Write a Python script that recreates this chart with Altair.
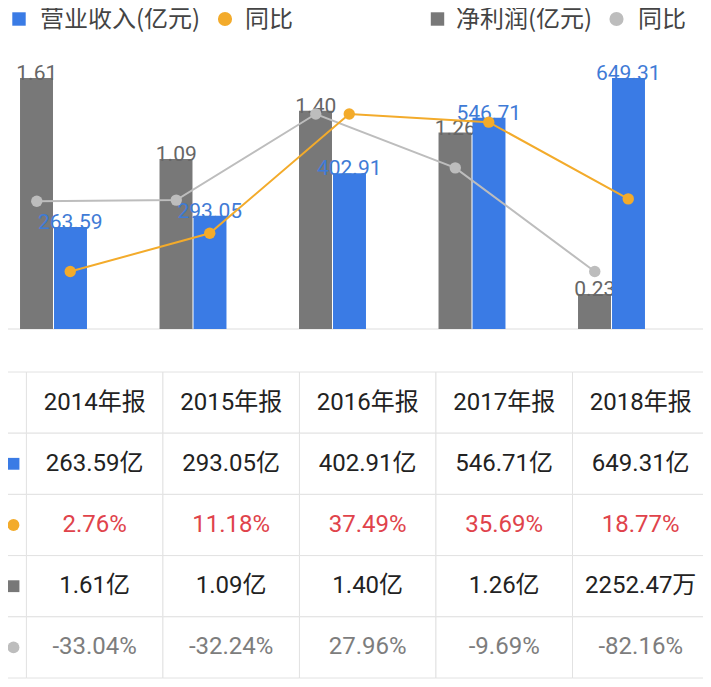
import altair as alt
import pandas as pd

# ---------------- data ----------------
years = ["2014年报", "2015年报", "2016年报", "2017年报", "2018年报"]
revenue = [263.59, 293.05, 402.91, 546.71, 649.31]          # 亿元
revenue_yoy = [2.76, 11.18, 37.49, 35.69, 18.77]            # %
profit = [1.61, 1.09, 1.40, 1.26, 0.225247]                 # 亿元 (2252.47万)
profit_yoy = [-33.04, -32.24, 27.96, -9.69, -82.16]         # %

revenue_labels = ["263.59", "293.05", "402.91", "546.71", "649.31"]
profit_labels = ["1.61", "1.09", "1.40", "1.26", "0.23"]

revenue_cells = ["263.59亿", "293.05亿", "402.91亿", "546.71亿", "649.31亿"]
revenue_yoy_cells = ["2.76%", "11.18%", "37.49%", "35.69%", "18.77%"]
profit_cells = ["1.61亿", "1.09亿", "1.40亿", "1.26亿", "2252.47万"]
profit_yoy_cells = ["-33.04%", "-32.24%", "27.96%", "-9.69%", "-82.16%"]

legend_labels = ["营业收入(亿元)", "同比", "净利润(亿元)", "同比"]

SER_REV = "营业收入(亿元)"
SER_PRO = "净利润(亿元)"
series_order = [SER_PRO, SER_REV]

# ---------------- styles ----------------
BLUE = "#3a7be5"
GRAY = "#787878"
ORANGE = "#f3ab2b"
LIGHT = "#bdbdbd"
RED = "#e0434b"
FONT = "Roboto, Noto Sans CJK SC"
CJK = "Noto Sans CJK SC"

W, H = 695, 671
X_RANGE = [-24.25, 673.25]
BAR_RANGE = [321, 70]
LINE_RANGE = [263.5, 106]
TX_RANGE = [18.4, 701]
TY_RANGE = [364, 670]

# ---------------- tables ----------------
bar_df = pd.DataFrame({
    "year": years * 2,
    "series": [SER_PRO] * 5 + [SER_REV] * 5,
    "value": profit + revenue,
    "label": profit_labels + revenue_labels,
})
line_df = pd.DataFrame({
    "year": years * 2,
    "series": [SER_PRO] * 5 + [SER_REV] * 5,
    "yoy": profit_yoy + revenue_yoy,
})

rows = ["header", "rev", "rev_yoy", "pro", "pro_yoy"]
row_text_colors = ["#222222", "#222222", RED, "#222222", "#7d7d7d"]
table_df = pd.DataFrame({
    "row": [r for r in rows for _ in years],
    "year": years * len(rows),
    "text": years + revenue_cells + revenue_yoy_cells + profit_cells + profit_yoy_cells,
})
icon_df = pd.DataFrame({"row": rows})
icon_rows = rows[1:]
icon_shapes = ["square", "circle", "square", "circle"]
icon_colors = [BLUE, ORANGE, GRAY, LIGHT]


def xenc():
    return alt.X("year:N", sort=years,
                 scale=alt.Scale(domain=years, range=X_RANGE,
                                 paddingInner=0.52, paddingOuter=0.26),
                 axis=None)


def xoff_band():
    return alt.XOffset("series:N",
                       scale=alt.Scale(type="band", domain=series_order,
                                       paddingInner=0.03, paddingOuter=0))


def xoff_point():
    return alt.XOffset("series:N",
                       scale=alt.Scale(type="point", domain=series_order, padding=0.5))


def ybar():
    return alt.Y("value:Q", scale=alt.Scale(nice=False, range=BAR_RANGE), axis=None)


def yline():
    return alt.Y("yoy:Q", scale=alt.Scale(zero=False, nice=False, range=LINE_RANGE),
                 axis=None)


base_bar = alt.Chart(bar_df)
pro_bars = base_bar.transform_filter(alt.datum.series == SER_PRO)
rev_bars = base_bar.transform_filter(alt.datum.series == SER_REV)

gray_bar = pro_bars.mark_bar(color=GRAY).encode(x=xenc(), xOffset=xoff_band(), y=ybar())
gray_lab = pro_bars.mark_text(font=FONT, fontSize=21, dy=-4, color="#666666").encode(
    x=xenc(), xOffset=xoff_point(), y=ybar(), text="label:N")
blue_bar = rev_bars.mark_bar(color=BLUE).encode(x=xenc(), xOffset=xoff_band(), y=ybar())
blue_lab = rev_bars.mark_text(font=FONT, fontSize=21, dy=-4, color="#3f7bd6").encode(
    x=xenc(), xOffset=xoff_point(), y=ybar(), text="label:N")

base_line = alt.Chart(line_df)
pro_line_d = base_line.transform_filter(alt.datum.series == SER_PRO)
rev_line_d = base_line.transform_filter(alt.datum.series == SER_REV)
gray_line = pro_line_d.mark_line(color=LIGHT, strokeWidth=2).encode(
    x=xenc(), xOffset=xoff_point(), y=yline())
gray_pts = pro_line_d.mark_point(filled=True, size=130, opacity=1, color=LIGHT).encode(
    x=xenc(), xOffset=xoff_point(), y=yline())
orange_line = rev_line_d.mark_line(color=ORANGE, strokeWidth=2).encode(
    x=xenc(), xOffset=xoff_point(), y=yline())
orange_pts = rev_line_d.mark_point(filled=True, size=130, opacity=1, color=ORANGE).encode(
    x=xenc(), xOffset=xoff_point(), y=yline())

baseline = alt.Chart(pd.DataFrame({"v": [0]})).mark_rule(color="#dddddd", strokeWidth=1).encode(
    y=alt.Y("v:Q", scale=alt.Scale(domain=[0, 1], range=BAR_RANGE), axis=None),
    x=alt.value(0), x2=alt.value(699))

# ---------------- legend (top) ----------------
LEG_Y = 12
leg_layers = []
leg_sym = [("square", BLUE, 11), ("circle", ORANGE, 217), ("square", GRAY, 429.5), ("circle", LIGHT, 608.5)]
leg_text_x = [32, 237, 448, 630]
for (shape, col, sx), lab, tx in zip(leg_sym, legend_labels, leg_text_x):
    d = pd.DataFrame({"t": [lab]})
    leg_layers.append(alt.Chart(d).mark_point(shape=shape, filled=True, opacity=1,
                                              size=180 if shape == "square" else 200,
                                              color=col).encode(
        x=alt.value(sx), y=alt.value(LEG_Y - 1)))
    leg_layers.append(alt.Chart(d).mark_text(font=CJK, fontSize=24, align="left",
                                             baseline="middle", color="#444444").encode(
        x=alt.value(tx), y=alt.value(LEG_Y), text="t:N"))

# ---------------- table ----------------
def tx():
    return alt.X("year:N", sort=years,
                 scale=alt.Scale(domain=years, range=TX_RANGE, paddingInner=0, paddingOuter=0),
                 axis=None)


def ty():
    return alt.Y("row:N", sort=rows,
                 scale=alt.Scale(domain=rows, range=TY_RANGE, paddingInner=0, paddingOuter=0),
                 axis=None)


cells = alt.Chart(table_df).mark_rect(fill="white", stroke="#e2e2e2", strokeWidth=1).encode(
    x=tx(), y=ty())
icon_cells = alt.Chart(icon_df).mark_rect(fill="white", stroke="#e2e2e2", strokeWidth=1).encode(
    x=alt.value(-8), x2=alt.value(TX_RANGE[0]), y=ty())
cell_text = alt.Chart(table_df).mark_text(font=FONT, fontSize=24, baseline="middle").encode(
    x=tx(), y=ty(), text="text:N",
    color=alt.Color("row:N", scale=alt.Scale(domain=rows, range=row_text_colors), legend=None))
icons = alt.Chart(icon_df).transform_filter(alt.datum.row != "header").mark_point(
    filled=True, size=140, opacity=1).encode(
    x=alt.value(5.5), y=ty(),
    shape=alt.Shape("row:N", scale=alt.Scale(domain=icon_rows, range=icon_shapes), legend=None),
    color=alt.Color("row:N", scale=alt.Scale(domain=icon_rows, range=icon_colors), legend=None))

chart = alt.layer(
    baseline, gray_bar, gray_lab, blue_bar, blue_lab,
    gray_line, gray_pts, orange_line, orange_pts,
    *leg_layers,
    cells, icon_cells, cell_text, icons,
).resolve_scale(
    x="independent", y="independent", color="independent",
    shape="independent", xOffset="independent",
).properties(
    width=W, height=H, padding=0,
    autosize=alt.AutoSizeParams(type="none"),
).configure_view(stroke=None)

chart.save("out.html", embed_options={"renderer": "svg", "actions": False})
